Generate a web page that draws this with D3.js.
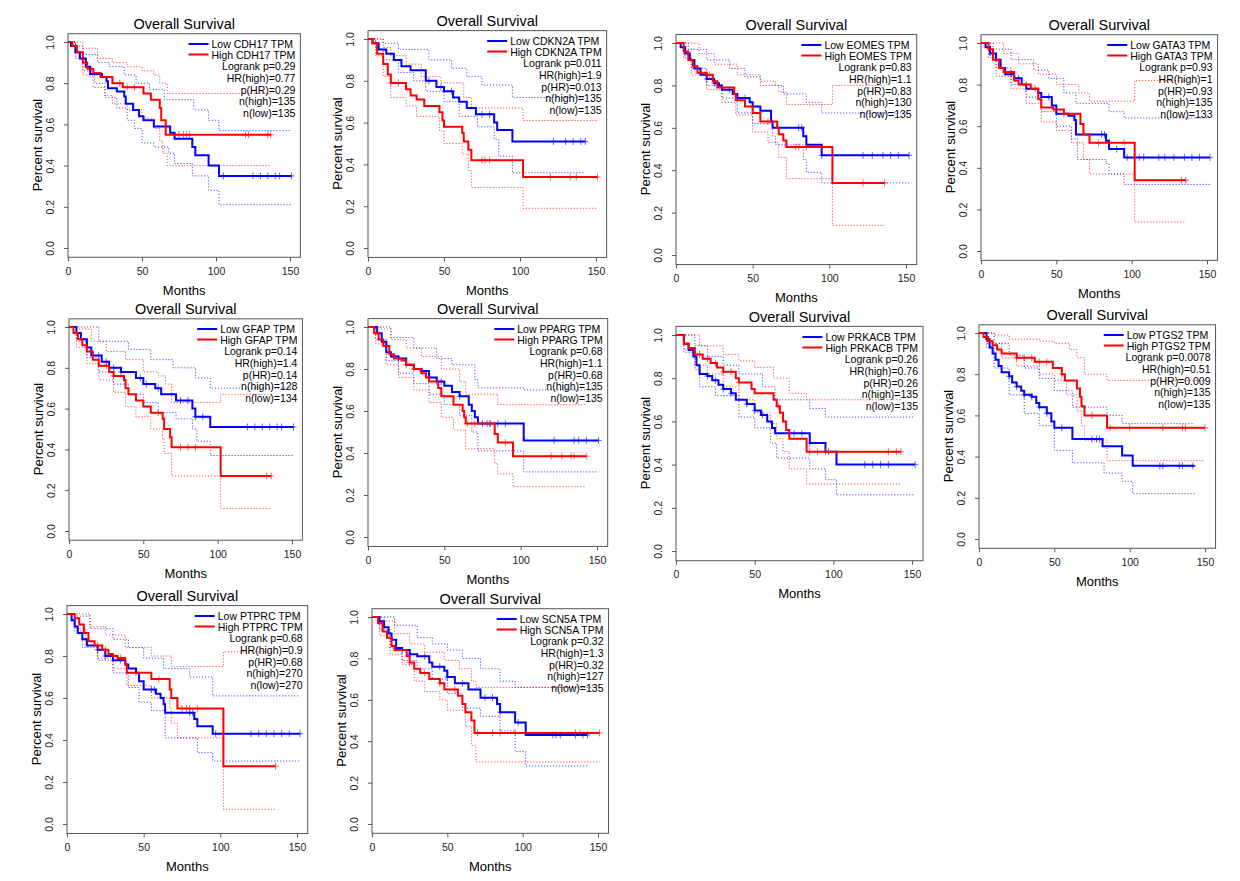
<!DOCTYPE html>
<html>
<head>
<meta charset="utf-8">
<script src="https://cdn.jsdelivr.net/npm/d3@7"></script>
<style>
  body { margin: 0; background: #fff; }
  svg text { font-family: "Liberation Sans", Arial, sans-serif; }
</style>
</head>
<body>
<svg id="chart" width="1240" height="881"></svg>
<script>
// gene names & legend stats, one entry per panel
const genes = ["CDH17", "CDKN2A", "EOMES", "GATA3", "GFAP", "PPARG", "PRKACB", "PTGS2", "PTPRC", "SCN5A"];
const logrank = ["0.29", "0.011", "0.83", "0.93", "0.14", "0.68", "0.26", "0.0078", "0.68", "0.32"];
const hrHigh = ["0.77", "1.9", "1.1", "1", "1.4", "1.1", "0.76", "0.51", "0.9", "1.3"];
const pHR = ["0.29", "0.013", "0.83", "0.93", "0.14", "0.68", "0.26", "0.009", "0.68", "0.32"];
const nHigh = [135, 135, 130, 135, 128, 135, 135, 135, 270, 127];
const nLow = [135, 135, 135, 133, 134, 135, 135, 135, 270, 135];
const xTicks = [0, 50, 100, 150];
const yTicks = [0, 0.2, 0.4, 0.6, 0.8, 1.0];

// KM steps [month, survival after step]
const lowCurves = [
  [[0,1],[2,0.98],[5,0.95],[8,0.92],[12,0.88],[15,0.845],[23,0.83],[26,0.81],[27,0.775],[33,0.76],[38,0.735],[39,0.70],[44,0.67],[48,0.64],[51,0.62],[58,0.59],[69,0.56],[72,0.53],[84,0.49],[86,0.45],[95,0.40],[102,0.35]],
  [[0,1],[3,0.98],[7,0.95],[12,0.93],[17,0.9],[22,0.87],[28,0.85],[38,0.8],[45,0.77],[50,0.75],[56,0.72],[60,0.7],[65,0.67],[71,0.64],[83,0.6],[85,0.565],[95,0.51]],
  [[0,1],[3,0.98],[6,0.95],[9,0.92],[12,0.88],[16,0.85],[20,0.83],[25,0.81],[28,0.8],[30,0.78],[37,0.76],[40,0.74],[48,0.72],[50,0.70],[55,0.68],[62,0.63],[63,0.6],[83,0.56],[85,0.52],[95,0.47]],
  [[0,1],[3,0.98],[6,0.95],[10,0.92],[13,0.88],[16,0.85],[22,0.83],[27,0.8],[30,0.78],[38,0.76],[40,0.74],[47,0.7],[50,0.66],[58,0.65],[62,0.63],[63,0.56],[83,0.53],[85,0.49],[95,0.45]],
  [[0,1],[5,0.97],[8,0.94],[12,0.9],[15,0.86],[22,0.83],[27,0.8],[35,0.78],[45,0.75],[50,0.72],[58,0.7],[62,0.67],[72,0.64],[83,0.6],[85,0.56],[95,0.51]],
  [[0,1],[6,0.97],[9,0.93],[12,0.88],[15,0.86],[20,0.85],[25,0.82],[30,0.8],[35,0.79],[40,0.76],[45,0.74],[50,0.72],[55,0.69],[60,0.67],[66,0.63],[68,0.6],[70,0.57],[72,0.54],[102,0.46]],
  [[0,1],[5,0.96],[8,0.93],[11,0.9],[13,0.86],[15,0.82],[20,0.81],[23,0.79],[27,0.77],[30,0.75],[35,0.73],[38,0.7],[45,0.68],[50,0.65],[54,0.63],[58,0.6],[61,0.57],[63,0.545],[85,0.5],[95,0.46],[102,0.4]],
  [[0,1],[5,0.97],[7,0.93],[9,0.9],[11,0.87],[13,0.84],[15,0.81],[20,0.79],[22,0.76],[25,0.74],[28,0.72],[30,0.7],[35,0.69],[38,0.66],[40,0.64],[45,0.61],[48,0.57],[50,0.54],[62,0.485],[82,0.45],[95,0.405],[102,0.355]],
  [[0,1],[3,0.97],[5,0.94],[7,0.91],[10,0.88],[13,0.85],[20,0.83],[25,0.8],[30,0.78],[38,0.76],[40,0.74],[45,0.72],[47,0.68],[50,0.64],[58,0.62],[61,0.6],[63,0.57],[64,0.53],[83,0.5],[85,0.465],[95,0.43]],
  [[0,1],[5,0.98],[8,0.95],[11,0.92],[13,0.89],[16,0.85],[20,0.84],[25,0.82],[30,0.81],[38,0.78],[40,0.76],[48,0.74],[50,0.71],[55,0.68],[64,0.65],[72,0.61],[83,0.58],[85,0.54],[95,0.49],[102,0.43]]
];
const highCurves = [
  [[0,1],[3,0.98],[6,0.95],[10,0.9],[13,0.87],[17,0.85],[22,0.83],[30,0.8],[37,0.78],[51,0.75],[56,0.72],[62,0.68],[63,0.62],[66,0.55]],
  [[0,1],[3,0.98],[6,0.93],[10,0.88],[13,0.83],[15,0.79],[25,0.76],[28,0.73],[32,0.71],[37,0.68],[47,0.65],[49,0.61],[50,0.58],[62,0.55],[63,0.51],[66,0.47],[68,0.42],[102,0.34]],
  [[0,1],[5,0.96],[8,0.92],[11,0.89],[14,0.86],[20,0.85],[24,0.82],[27,0.79],[38,0.76],[39,0.73],[45,0.7],[50,0.67],[55,0.63],[66,0.6],[67,0.57],[70,0.54],[72,0.51],[102,0.34]],
  [[0,1],[5,0.97],[8,0.92],[12,0.88],[15,0.86],[22,0.82],[25,0.8],[33,0.78],[38,0.73],[40,0.69],[48,0.68],[55,0.66],[66,0.61],[68,0.56],[72,0.52],[102,0.34]],
  [[0,1],[3,0.97],[6,0.94],[9,0.91],[12,0.88],[16,0.84],[20,0.81],[27,0.78],[30,0.76],[37,0.74],[38,0.7],[40,0.67],[45,0.64],[50,0.61],[55,0.58],[63,0.55],[64,0.5],[68,0.46],[69,0.41],[102,0.27]],
  [[0,1],[4,0.97],[7,0.94],[10,0.91],[14,0.87],[17,0.85],[22,0.84],[25,0.82],[30,0.8],[35,0.78],[38,0.76],[40,0.74],[46,0.71],[48,0.67],[56,0.63],[62,0.6],[63,0.57],[64,0.54],[83,0.49],[85,0.45],[95,0.385]],
  [[0,1],[5,0.96],[8,0.94],[12,0.91],[17,0.89],[22,0.87],[26,0.85],[30,0.83],[38,0.8],[40,0.78],[48,0.75],[50,0.73],[62,0.7],[64,0.67],[66,0.64],[68,0.6],[70,0.56],[72,0.52],[83,0.46]],
  [[0,1],[3,0.98],[6,0.96],[9,0.94],[12,0.92],[15,0.9],[25,0.88],[37,0.86],[49,0.83],[55,0.8],[57,0.77],[65,0.73],[67,0.69],[68,0.645],[70,0.6],[85,0.54]],
  [[0,1],[5,0.98],[8,0.95],[11,0.91],[14,0.87],[18,0.85],[23,0.83],[27,0.81],[30,0.8],[33,0.79],[38,0.76],[39,0.72],[55,0.69],[67,0.64],[68,0.6],[72,0.55],[102,0.275]],
  [[0,1],[4,0.97],[7,0.93],[10,0.9],[13,0.86],[15,0.84],[23,0.81],[25,0.78],[28,0.75],[32,0.73],[38,0.7],[45,0.68],[48,0.65],[57,0.62],[60,0.58],[62,0.54],[66,0.5],[68,0.44]]
];
const lowUpper = [
  [[0,1],[5,0.98],[10,0.94],[20,0.9],[28,0.88],[38,0.84],[46,0.8],[55,0.77],[65,0.72],[85,0.67],[95,0.62],[102,0.57]],
  [[0,1],[5,1],[10,0.98],[20,0.95],[40,0.9],[55,0.86],[65,0.82],[75,0.78],[95,0.72]],
  [[0,1],[8,0.97],[20,0.92],[35,0.88],[45,0.84],[55,0.8],[70,0.76],[85,0.72],[95,0.67]],
  [[0,1],[8,0.97],[20,0.92],[35,0.87],[45,0.83],[55,0.76],[63,0.71],[85,0.67],[95,0.64]],
  [[0,1],[10,1],[20,0.93],[40,0.89],[55,0.84],[70,0.8],[85,0.75],[95,0.7]],
  [[0,1],[8,1],[15,0.95],[30,0.9],[45,0.85],[55,0.82],[70,0.75],[72,0.71],[102,0.7]],
  [[0,1],[5,1],[12,0.95],[20,0.9],[30,0.86],[40,0.82],[55,0.76],[63,0.7],[85,0.66],[95,0.62]],
  [[0,1],[5,1],[10,0.95],[20,0.89],[30,0.83],[40,0.78],[50,0.72],[62,0.64],[85,0.6],[95,0.56]],
  [[0,1],[5,0.99],[15,0.93],[30,0.88],[40,0.84],[50,0.79],[63,0.74],[80,0.7],[95,0.61]],
  [[0,1],[8,1],[15,0.96],[30,0.9],[40,0.87],[50,0.84],[60,0.8],[72,0.75],[85,0.69],[95,0.66]]
];
const lowLower = [
  [[0,1],[5,0.92],[10,0.86],[18,0.8],[25,0.73],[33,0.68],[40,0.62],[45,0.58],[50,0.51],[58,0.49],[68,0.46],[72,0.41],[84,0.35],[95,0.28],[102,0.21]],
  [[0,1],[5,0.95],[10,0.9],[20,0.84],[30,0.8],[38,0.75],[50,0.7],[60,0.63],[72,0.58],[83,0.52],[86,0.44],[95,0.36]],
  [[0,1],[5,0.94],[10,0.88],[20,0.8],[30,0.74],[40,0.67],[50,0.62],[63,0.56],[65,0.52],[83,0.45],[85,0.39],[95,0.34]],
  [[0,1],[5,0.94],[10,0.88],[20,0.8],[30,0.74],[40,0.67],[50,0.6],[60,0.54],[64,0.44],[83,0.42],[85,0.37],[95,0.32]],
  [[0,1],[5,0.93],[12,0.85],[20,0.78],[30,0.72],[40,0.67],[50,0.63],[60,0.58],[72,0.55],[83,0.5],[86,0.44],[95,0.37]],
  [[0,1],[5,0.94],[12,0.84],[20,0.78],[30,0.73],[40,0.68],[50,0.63],[60,0.58],[68,0.5],[72,0.41],[102,0.31]],
  [[0,1],[5,0.92],[12,0.84],[15,0.76],[25,0.72],[40,0.62],[50,0.57],[60,0.5],[64,0.43],[85,0.38],[95,0.33],[102,0.26]],
  [[0,1],[5,0.93],[10,0.83],[20,0.7],[30,0.61],[40,0.55],[50,0.43],[62,0.37],[83,0.32],[95,0.28],[102,0.22]],
  [[0,1],[5,0.92],[10,0.84],[20,0.78],[30,0.72],[40,0.65],[47,0.58],[55,0.54],[64,0.41],[85,0.34],[95,0.3]],
  [[0,1],[5,0.94],[12,0.85],[20,0.79],[30,0.75],[40,0.7],[50,0.63],[60,0.56],[72,0.52],[85,0.45],[95,0.35],[102,0.28]]
];
const highUpper = [
  [[0,1],[10,0.97],[20,0.92],[30,0.9],[40,0.88],[50,0.86],[58,0.84],[62,0.8],[67,0.75]],
  [[0,1],[10,0.96],[15,0.92],[25,0.88],[35,0.82],[48,0.79],[63,0.72],[68,0.67],[102,0.61]],
  [[0,1],[15,0.95],[25,0.9],[40,0.85],[55,0.82],[65,0.8],[67,0.77],[72,0.71],[102,0.8]],
  [[0,1],[15,0.95],[25,0.9],[38,0.85],[50,0.8],[65,0.76],[72,0.72],[102,0.82]],
  [[0,1],[5,0.99],[15,0.93],[25,0.88],[38,0.84],[50,0.78],[60,0.76],[65,0.72],[69,0.63],[102,0.67]],
  [[0,1],[8,0.99],[15,0.94],[25,0.9],[35,0.86],[48,0.8],[60,0.74],[64,0.68],[85,0.63]],
  [[0,1],[15,0.95],[30,0.91],[40,0.88],[50,0.85],[62,0.8],[72,0.73],[83,0.7]],
  [[0,1],[10,0.99],[20,0.97],[40,0.96],[50,0.95],[60,0.92],[65,0.88],[70,0.8],[85,0.77]],
  [[0,1],[15,0.94],[25,0.9],[38,0.84],[55,0.8],[68,0.75],[102,0.82]],
  [[0,1],[8,0.98],[15,0.92],[25,0.87],[35,0.83],[48,0.79],[58,0.75],[66,0.69],[69,0.66]]
];
const highLower = [
  [[0,1],[5,0.95],[10,0.84],[17,0.78],[25,0.74],[30,0.7],[40,0.67],[50,0.63],[58,0.58],[62,0.52],[64,0.46],[67,0.4]],
  [[0,1],[5,0.92],[10,0.82],[15,0.72],[25,0.68],[32,0.63],[47,0.56],[50,0.5],[62,0.45],[66,0.37],[68,0.29],[102,0.19]],
  [[0,1],[5,0.93],[10,0.85],[20,0.78],[30,0.72],[39,0.66],[50,0.58],[60,0.53],[67,0.46],[72,0.36],[102,0.14]],
  [[0,1],[5,0.93],[10,0.84],[20,0.78],[30,0.71],[40,0.62],[50,0.58],[60,0.52],[68,0.44],[72,0.37],[102,0.14]],
  [[0,1],[5,0.9],[12,0.82],[20,0.74],[30,0.68],[38,0.61],[45,0.56],[55,0.5],[63,0.45],[64,0.38],[69,0.27],[102,0.11]],
  [[0,1],[5,0.92],[12,0.82],[20,0.76],[30,0.7],[40,0.64],[48,0.57],[56,0.51],[64,0.42],[83,0.35],[85,0.3],[95,0.24]],
  [[0,1],[5,0.93],[12,0.86],[20,0.82],[30,0.76],[40,0.7],[50,0.64],[60,0.59],[64,0.52],[68,0.46],[72,0.38],[83,0.31]],
  [[0,1],[5,0.95],[15,0.88],[25,0.84],[40,0.8],[50,0.77],[58,0.7],[65,0.62],[68,0.55],[70,0.48],[85,0.38]],
  [[0,1],[5,0.93],[12,0.85],[20,0.79],[30,0.74],[39,0.66],[55,0.6],[67,0.55],[68,0.48],[72,0.41],[102,0.07]],
  [[0,1],[5,0.91],[12,0.82],[20,0.77],[28,0.69],[35,0.64],[45,0.6],[50,0.55],[62,0.47],[66,0.38],[69,0.3]]
];
const lowEnd = [151, 143, 152, 152, 151, 151, 152, 143, 152, 143];
const highEnd = [137, 151, 136, 136, 136, 143, 143, 150, 136, 151];
const lowCensor = [
  [105,125,130,135,140,143,151],
  [40,48,55,75,80,122,130,135,140,143],
  [20,25,35,45,80,82,95,122,128,135,140,145,152],
  [20,25,45,80,82,90,97,105,108,118,122,128,135,140,145,152],
  [20,25,30,35,48,52,60,75,80,85,90,120,125,130,135,140,143,151],
  [20,35,45,48,60,75,78,80,85,90,122,135,138,143,151],
  [20,25,30,35,45,50,55,75,80,85,97,120,125,130,135,152],
  [20,25,30,35,40,45,55,75,78,80,120,122,133,135,142],
  [20,25,35,45,55,57,80,82,97,120,125,130,135,140,145,152],
  [20,25,35,45,50,60,75,80,85,97,120,122,125,135,140,143]
];
const highCensor = [
  [35,40,45,75,78,80,82,120,122,135,137],
  [15,20,75,77,80,120,133,137,151],
  [20,22,60,78,80,85,122,136],
  [30,36,55,78,85,95,133,136],
  [25,30,60,75,80,85,133,136],
  [25,30,65,70,80,90,120,127,133,135,143],
  [15,20,25,30,35,40,65,85,90,95,135,140,143],
  [25,30,35,40,45,55,75,87,100,122,135,137,150],
  [20,25,35,60,75,78,80,85,136],
  [25,35,45,55,70,80,85,95,135,138,151]
];

// panel layout: pixel of month 0, month 150, survival 1.0, survival 0.0
const panels = [
  [68, 290, 42, 248], [368, 596, 39, 248], [676, 906, 43, 255], [981, 1207, 43, 251],
  [69, 292, 327, 531], [368, 597, 327, 537], [676, 912, 335, 551], [979, 1205, 333, 539],
  [67, 297, 614, 824], [372, 598, 617, 824]
];

const svg = d3.select("#chart");
const BLUE = "#0000ff", RED = "#ff0000";

function stepPath(x, y, pts, end) {
  let d = "M" + x(pts[0][0]) + "," + y(pts[0][1]);
  for (let i = 1; i < pts.length; i++) {
    d += "H" + x(pts[i][0]) + "V" + y(pts[i][1]);
  }
  return d + "H" + x(end);
}
function survAt(pts, t) {
  let s = 1;
  pts.forEach(p => { if (p[0] <= t) s = p[1]; });
  return s;
}

panels.forEach((p, i) => {
  const x = d3.scaleLinear().domain([0, 150]).range([p[0], p[1]]);
  const y = d3.scaleLinear().domain([0, 1]).range([p[3], p[2]]);
  const g = svg.append("g");
  const bx0 = x(0), bx1 = x(157), by0 = y(1.04), by1 = y(-0.045);

  // box
  g.append("rect").attr("x", bx0).attr("y", by0).attr("width", bx1 - bx0).attr("height", by1 - by0)
    .attr("fill", "none").attr("stroke", "#555").attr("stroke-width", 1);

  // axes
  const xa = g.append("g").attr("transform", `translate(0,${by1})`)
    .call(d3.axisBottom(x).tickValues(xTicks).tickSize(4).tickPadding(6));
  const ya = g.append("g").attr("transform", `translate(${bx0},0)`)
    .call(d3.axisLeft(y).tickValues(yTicks).tickFormat(d3.format(".1f")).tickSize(4).tickPadding(4));
  [xa, ya].forEach(a => {
    a.select(".domain").remove();
    a.selectAll("line").attr("stroke", "#555");
    a.selectAll("text").attr("font-size", 10.5).attr("fill", "#222");
  });
  ya.selectAll(".tick text").attr("text-anchor", "middle").attr("dy", 0)
    .attr("transform", function(d) { return `translate(-12,0) rotate(-90) translate(0,${-3})`; })
    .attr("x", 0).attr("dominant-baseline", "auto");
  ya.selectAll(".tick text").attr("transform", null).attr("x", null)
    .each(function(d) {
      d3.select(this).attr("transform", `translate(${-14},0) rotate(-90)`).attr("y", 0).attr("dy", "0em");
    });

  // titles
  g.append("text").attr("x", (bx0 + bx1) / 2).attr("y", p[2] - 13).attr("text-anchor", "middle")
    .attr("font-size", 14.5).text("Overall Survival");
  g.append("text").attr("x", (bx0 + bx1) / 2).attr("y", p[3] + 47).attr("text-anchor", "middle")
    .attr("font-size", 13).text("Months");
  g.append("text").attr("transform", `translate(${bx0 - 26},${(y(0) + y(1)) / 2}) rotate(-90)`)
    .attr("text-anchor", "middle").attr("font-size", 13).text("Percent survival");

  // confidence bands
  const ci = [[lowUpper[i], lowEnd[i], BLUE], [lowLower[i], lowEnd[i], BLUE],
              [highUpper[i], highEnd[i], RED], [highLower[i], highEnd[i], RED]];
  ci.forEach(c => {
    g.append("path").attr("d", stepPath(x, y, c[0], c[1])).attr("fill", "none")
      .attr("stroke", c[2]).attr("stroke-width", 1).attr("stroke-dasharray", "1.2,1.8").attr("opacity", 0.7);
  });

  // main curves and censor marks
  [[lowCurves[i], lowEnd[i], lowCensor[i], BLUE], [highCurves[i], highEnd[i], highCensor[i], RED]].forEach(c => {
    g.append("path").attr("d", stepPath(x, y, c[0], c[1])).attr("fill", "none")
      .attr("stroke", c[3]).attr("stroke-width", 2);
    c[2].forEach(t => {
      const cx = x(t), cy = y(survAt(c[0], t));
      g.append("path").attr("d", `M${cx - 3},${cy}H${cx + 3}M${cx},${cy - 3.5}V${cy + 3.5}`)
        .attr("stroke", c[3]).attr("stroke-width", 1).attr("opacity", 0.6);
    });
  });

  // legend
  const right = bx1 - 5;
  const labels = ["Low " + genes[i] + " TPM", "High " + genes[i] + " TPM"];
  const lt = labels.map((l, k) => g.append("text").attr("y", y(1) + 6 + k * 10.5).attr("font-size", 10.5).text(l));
  const w = d3.max(lt, t => t.node().getComputedTextLength());
  const lx = right - w;
  lt.forEach((t, k) => {
    t.attr("x", lx);
    g.append("line").attr("x1", lx - 23).attr("x2", lx - 3)
      .attr("y1", y(1) + 2 + k * 10.5).attr("y2", y(1) + 2 + k * 10.5)
      .attr("stroke", k ? RED : BLUE).attr("stroke-width", 2);
  });
  const stats = ["Logrank p=" + logrank[i], "HR(high)=" + hrHigh[i], "p(HR)=" + pHR[i],
                 "n(high)=" + nHigh[i], "n(low)=" + nLow[i]];
  stats.forEach((s, k) => {
    g.append("text").attr("x", right).attr("y", y(1) + 28 + k * 11.8).attr("text-anchor", "end")
      .attr("font-size", 10.5).text(s);
  });
});
</script>
</body>
</html>
